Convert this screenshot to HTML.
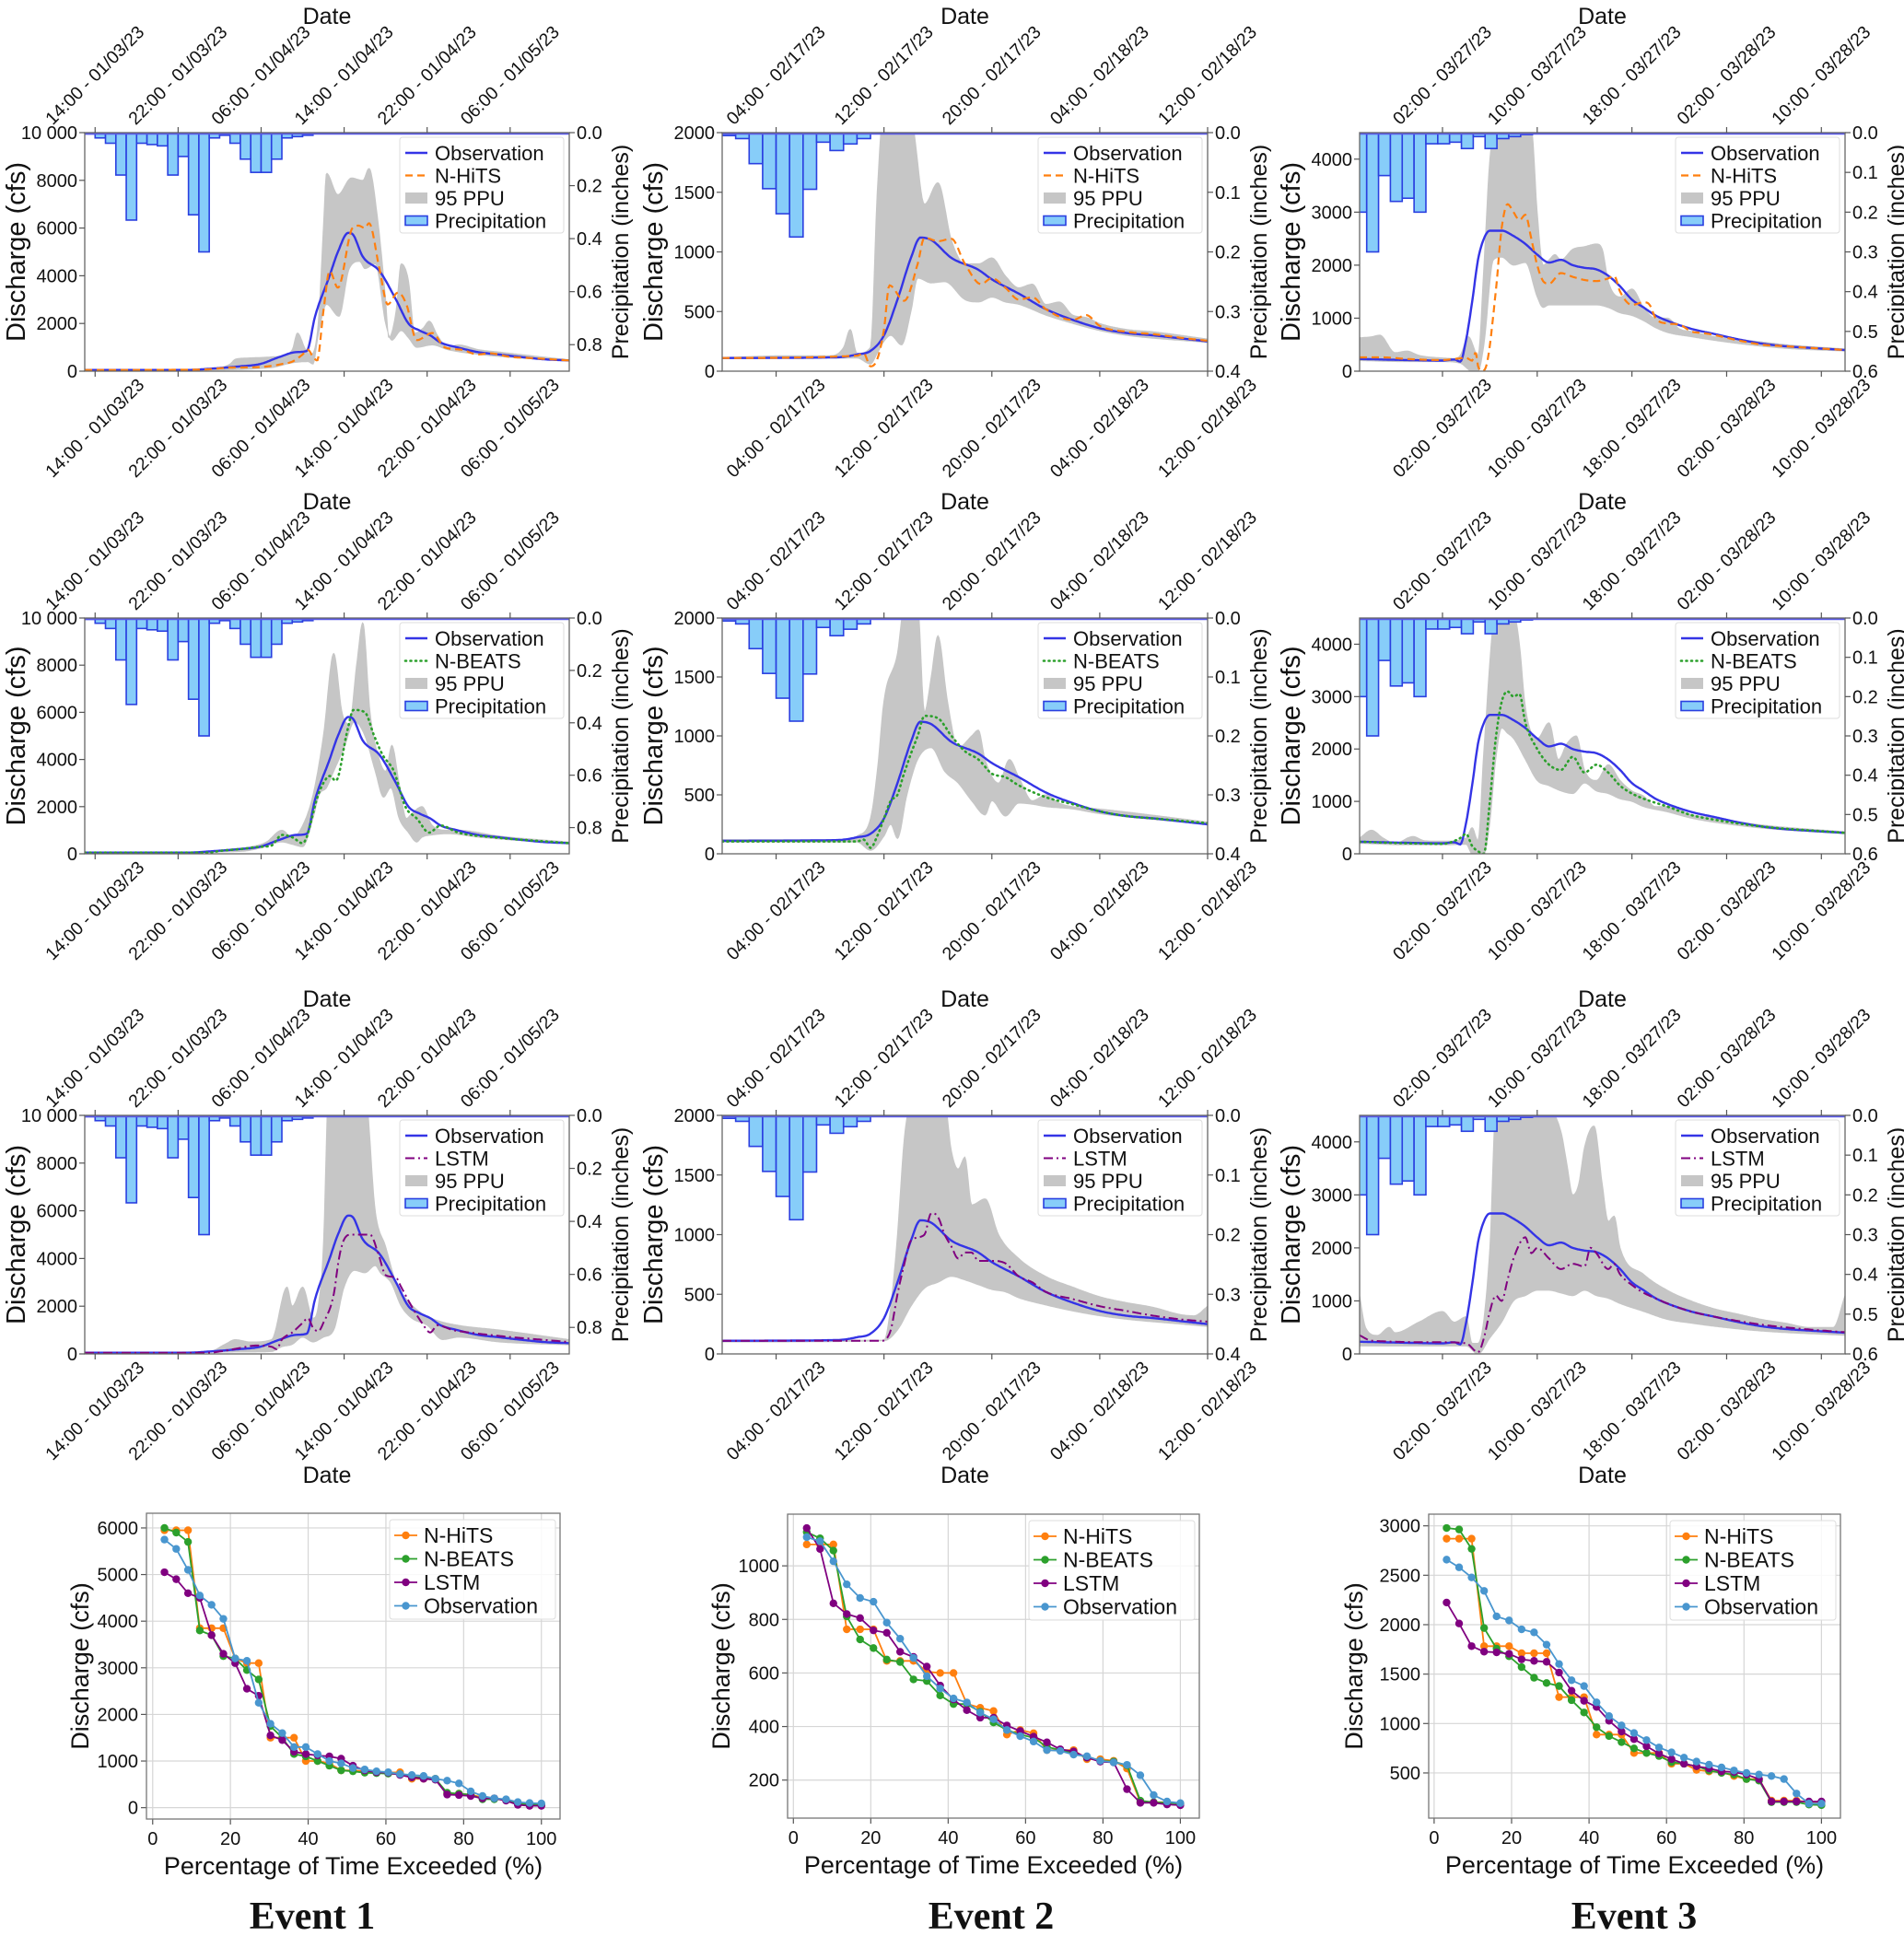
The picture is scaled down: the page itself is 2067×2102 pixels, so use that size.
<!DOCTYPE html>
<html><head><meta charset="utf-8"><title>Discharge forecasts</title>
<style>html,body{margin:0;padding:0;background:#fff}svg{display:block}text{font-family:"Liberation Sans","DejaVu Sans",sans-serif;fill:#111}</style>
</head><body>
<svg id="fig" xmlns="http://www.w3.org/2000/svg" width="2067" height="2102" viewBox="0 0 2067 2102">
<rect width="2067" height="2102" fill="#fff"/>
<text x="339" y="2094" text-anchor="middle" style="font-family:'Liberation Serif',serif;font-weight:bold;font-size:42px">Event 1</text>
<text x="1076" y="2094" text-anchor="middle" style="font-family:'Liberation Serif',serif;font-weight:bold;font-size:42px">Event 2</text>
<text x="1774" y="2094" text-anchor="middle" style="font-family:'Liberation Serif',serif;font-weight:bold;font-size:42px">Event 3</text>
</svg>
<script>
// ===== Event 1 data (hours from start, cfs) =====
const e1TickHours=[1,9,17,25,33,41];
const e1TickLabels=['14:00 - 01/03/23','22:00 - 01/03/23','06:00 - 01/04/23','14:00 - 01/04/23','22:00 - 01/04/23','06:00 - 01/05/23'];
const e1QTicks=[0,2000,4000,6000,8000,10000];
const e1QLabels=['0','2000','4000','6000','8000','10 000'];
const e1PTicks=[0,0.2,0.4,0.6,0.8];
const e1PLabels=['0.0','0.2','0.4','0.6','0.8'];
const e1Precip=[0.005,0.02,0.04,0.16,0.33,0.04,0.045,0.05,0.16,0.09,0.31,0.45,0.02,0.01,0.04,0.10,0.15,0.15,0.10,0.02,0.015,0.01,0.003];
const e1Obs=[[0,50],[10,50],[12,100],[14.9,200],[16.9,300],[18.8,600],[20.4,800],[21.4,850],[22.2,2300],[23.6,4000],[24.4,5000],[25.4,5800],[25.8,5750],[26.8,4800],[28.4,4200],[30,3000],[31.2,2000],[32.3,1700],[33.3,1500],[34.3,1200],[35.9,1000],[37.9,800],[39.9,700],[41.9,600],[44.2,500],[46.7,450]];
const e1Hits=[[0,50],[10,60],[12,80],[14,150],[16,160],[18,220],[19,300],[20,400],[21,700],[21.5,900],[22,600],[22.4,450],[23,2500],[23.6,4200],[24.4,3500],[25.8,6000],[26.4,6100],[27,6000],[27.4,6200],[28.4,4300],[29.2,2800],[30.2,3300],[31,2800],[32,1300],[33.5,1600],[34.7,1000],[36.3,900],[37.9,700],[39,750],[41,600],[43,550],[46.7,450]];
const e1HitsUp=[[0,60],[10,60],[13,150],[14,300],[14.5,500],[15.5,550],[18,600],[19,650],[20,900],[20.5,1600],[21.3,900],[21.8,700],[22.5,2000],[23,6000],[23.3,8300],[24.4,7400],[25.7,8100],[26.8,8000],[27.4,8500],[28.2,6500],[29,3000],[29.3,1400],[30,2500],[30.5,4500],[31.2,3800],[31.8,1600],[32.6,1800],[33.2,2100],[34,1500],[35,1000],[36,1100],[38,900],[40,800],[42,700],[46.7,480]];
const e1HitsLo=[[0,30],[10,40],[18,150],[20,350],[21.5,400],[22,300],[22.5,1500],[23.3,2800],[24.5,2300],[25.5,4300],[26.5,4600],[27,4300],[28,4500],[29,2000],[29.6,1300],[30.5,1700],[31.2,1400],[32,1000],[33.5,1100],[35,900],[38,700],[42,550],[46.7,420]];
const e1Beats=[[0,50],[12,50],[13,120],[15,200],[17,300],[18,350],[19,800],[20,700],[21,450],[22.5,2500],[23,3000],[23.6,3300],[24.2,3100],[25.3,5200],[25.9,6100],[27,6000],[27.9,5000],[28.7,4200],[29.8,3500],[30.9,2000],[32,1500],[33.2,900],[34.3,1200],[36,900],[39.4,700],[46.7,450]];
const e1BeatsUp=[[0,60],[10,60],[12,100],[14,200],[16,300],[17.5,500],[19,1000],[20,700],[21,1200],[22,2500],[23,5000],[24,8500],[24.8,6000],[25.5,5500],[26.2,8000],[26.8,9800],[27.5,6000],[28.4,4000],[29,3500],[29.6,4600],[30.3,3000],[31,1500],[31.5,1700],[32.5,2000],[33.5,1200],[35,1000],[36,1000],[40,750],[46.7,500]];
const e1BeatsLo=[[0,30],[15,100],[17,250],[19,500],[20,400],[21,300],[22,1500],[22.6,2500],[23.3,2800],[24,3500],[25,4500],[26,5600],[27,5000],[28,3500],[28.8,2400],[29.5,2800],[30.3,1500],[31.2,900],[32,500],[32.5,700],[33.5,800],[35,850],[38,700],[46.7,420]];
const e1Lstm=[[0,50],[12,50],[13,100],[15,250],[16.5,350],[18,300],[18.5,200],[19,600],[20,900],[21,1300],[21.5,1500],[22,1100],[22.5,950],[23,1300],[24,2500],[24.5,4000],[25,4800],[25.7,5000],[26.5,5000],[27.5,5000],[28.3,4200],[29,3300],[30,3200],[30.5,2800],[31.5,2000],[32.5,1300],[33.3,900],[34,1200],[35.5,1000],[37,900],[40,750],[46.7,500]];
const e1LstmUp=[[0,60],[12,100],[13.5,400],[14.5,600],[16,500],[18,600],[19.5,2800],[20,2000],[21,2800],[22,1500],[22.5,2000],[23,4500],[23.5,11000],[27,11000],[28,6000],[29,4500],[30,3000],[31,2300],[32.5,1700],[34,1400],[36,1200],[40,1000],[46.7,600]];
const e1LstmLo=[[0,30],[15,80],[18,100],[19,300],[20,400],[21,700],[22,500],[23,700],[24,1000],[25,2800],[26,3500],[27,3400],[28,3700],[28.5,3400],[29.5,3000],[30.5,2000],[31.5,1500],[33,1200],[34.5,600],[36,700],[40,500],[46.7,380]];

// ===== Event 2 data =====
const e2TickHours=[4,12,20,28,36];
const e2TickLabels=['04:00 - 02/17/23','12:00 - 02/17/23','20:00 - 02/17/23','04:00 - 02/18/23','12:00 - 02/18/23'];
const e2QTicks=[0,500,1000,1500,2000];
const e2QLabels=['0','500','1000','1500','2000'];
const e2PTicks=[0,0.1,0.2,0.3,0.4];
const e2PLabels=['0.0','0.1','0.2','0.3','0.4'];
const e2Precip=[0.005,0.01,0.052,0.094,0.136,0.175,0.095,0.016,0.03,0.019,0.01];
const e2Obs=[[0,110],[8,115],[9,120],[10,140],[11,170],[12,300],[13,600],[14,950],[14.7,1120],[15.5,1100],[17,950],[19,850],[20,770],[22,650],[24,520],[26,430],[28,360],[30,320],[32,300],[34,275],[36,250]];
const e2Hits=[[0,110],[10,130],[10.5,150],[11,40],[11.5,100],[12,350],[12.4,720],[13.5,590],[14.5,900],[15,1120],[16,1090],[17,1110],[18,900],[19.2,730],[20,780],[21,700],[22,600],[23,620],[24,520],[26,430],[27,470],[28,380],[30,330],[32,310],[34,280],[36,255]];
const e2HitsUp=[[0,115],[5,130],[8,130],[9,200],[9.5,350],[10,150],[11,200],[11.5,1500],[11.9,2100],[14,2100],[15,1400],[16,1580],[17,1100],[18,900],[19,900],[20,950],[21,800],[22,700],[23,730],[24,560],[25,580],[26,470],[27,450],[28,400],[30,350],[32,330],[36,270]];
const e2HitsLo=[[0,105],[10,110],[11,60],[11.5,150],[12,250],[12.5,300],[13.3,220],[14,500],[14.5,780],[15.5,740],[16.5,750],[18,600],[19,580],[20,620],[21,580],[22,560],[24,470],[26,400],[28,340],[30,300],[36,240]];
const e2Beats=[[0,105],[10,105],[10.5,120],[11,50],[11.5,150],[12,300],[12.5,450],[13,500],[13.4,650],[14,850],[14.5,1000],[15,1170],[16,1150],[17,1000],[18,870],[19,800],[20,680],[21,650],[22,580],[24,480],[26,420],[28,360],[30,320],[32,300],[36,260]];
const e2BeatsUp=[[0,120],[9,120],[10,150],[11,300],[11.5,700],[12,1300],[13,1700],[13.5,2100],[14.5,2100],[15,1200],[15.5,1500],[16,1850],[16.7,1300],[17.5,900],[18.5,1000],[19,1050],[19.5,800],[20.5,600],[21.3,800],[22,650],[23,450],[24,500],[25,430],[26,400],[28,380],[36,270]];
const e2BeatsLo=[[0,100],[10,100],[11,30],[12,150],[12.5,250],[13,130],[13.7,500],[14.5,800],[15.5,900],[16.5,700],[17.5,600],[18.5,450],[19.5,330],[20,450],[21,320],[22,430],[23,420],[24,400],[26,380],[28,340],[36,250]];
const e2Lstm=[[0,110],[11.8,110],[12.5,200],[13,500],[13.5,750],[14,950],[15,1000],[15.5,1180],[16,1150],[16.5,1000],[17,900],[17.5,800],[18,850],[18.5,850],[19,780],[20,780],[21,760],[22,650],[23,600],[24,520],[26,460],[28,400],[30,360],[32,320],[34,290],[36,270]];
const e2LstmUp=[[0,115],[12,115],[12.5,400],[13,1000],[13.5,1800],[14,2100],[16.5,2100],[17,1700],[17.5,1550],[18,1650],[18.5,1250],[19.5,1300],[20.5,1000],[22,800],[24,650],[26,560],[28,480],[30,430],[32,390],[34,330],[35,320],[36,400]];
const e2LstmLo=[[0,100],[12,110],[13,200],[14,400],[15,550],[16,600],[17,650],[18,620],[19,580],[20,540],[21,520],[22,470],[24,410],[26,360],[28,320],[30,290],[34,250],[36,230]];

// ===== Event 3 data =====
const e3TickHours=[7,15,23,31,39];
const e3TickLabels=['02:00 - 03/27/23','10:00 - 03/27/23','18:00 - 03/27/23','02:00 - 03/28/23','10:00 - 03/28/23'];
const e3QTicks=[0,1000,2000,3000,4000];
const e3QLabels=['0','1000','2000','3000','4000'];
const e3PTicks=[0,0.1,0.2,0.3,0.4,0.5,0.6];
const e3PLabels=['0.0','0.1','0.2','0.3','0.4','0.5','0.6'];
const e3Precip=[0.2,0.3,0.108,0.173,0.165,0.2,0.028,0.028,0.024,0.04,0.01,0.04,0.015,0.01,0.005,0.002];
const e3Obs=[[0,230],[4,210],[7,200],[8,220],[8.5,180],[9,600],[9.5,1300],[10,2100],[10.5,2500],[11,2650],[12,2650],[13,2550],[14,2400],[15,2200],[16,2050],[17,2100],[18,2000],[19,1950],[20,1920],[21,1800],[22,1600],[23,1350],[24,1200],[25,1050],[26,950],[28,800],[30,700],[32,600],[34,520],[36,470],[38,440],[41,400]];
const e3Hits=[[0,260],[2,260],[4,230],[7,210],[8,230],[9,250],[9.5,200],[9.8,350],[10,100],[10.3,0],[10.7,100],[11.5,1500],[12,2700],[12.5,3150],[13,3000],[13.5,2850],[14,2950],[14.5,2500],[15,2000],[15.5,1700],[16,1650],[17,1850],[18,1780],[19,1720],[20,1700],[21,1750],[21.5,1800],[22,1500],[23,1250],[24,1300],[24.5,1250],[25,1000],[26,900],[27,880],[28,750],[29,720],[30,680],[32,580],[34,500],[36,470],[38,440],[41,400]];
const e3HitsUp=[[0,630],[1,650],[1.7,680],[3,350],[4,380],[5,300],[7,250],[8,240],[8.5,300],[9.2,650],[10,300],[10.5,2000],[11,4000],[11.5,4600],[14.5,4600],[15,3000],[15.5,2000],[16,2100],[16.5,2200],[17,2100],[18,2300],[19,2350],[20,2400],[20.5,2300],[21,1700],[22,1400],[23,1550],[24,1200],[25,1000],[26,1000],[27,800],[28,750],[29,700],[30,650],[32,600],[34,550],[36,500],[41,420]];
const e3HitsLo=[[0,200],[4,180],[7,180],[8.5,150],[9.5,0],[10,0],[10.5,500],[11.3,2100],[12,2150],[13,2000],[14,2050],[15,1400],[15.5,1200],[16,1250],[17,1250],[18,1250],[20,1250],[21,1200],[22,1100],[23,1050],[24,950],[25,820],[26,730],[28,650],[30,580],[32,520],[34,470],[36,430],[41,380]];
const e3Beats=[[0,230],[4,200],[7,190],[8.5,300],[9,380],[9.5,150],[10,50],[10.5,0],[11,1000],[11.5,2200],[12,2900],[12.5,3100],[13,3000],[13.5,3050],[14,2500],[15,2000],[16,1700],[17,1600],[18,1850],[19,1550],[20,1700],[21,1550],[22,1300],[23,1150],[24,1050],[26,900],[28,740],[30,650],[34,520],[41,400]];
const e3BeatsUp=[[0,300],[1,450],[2,300],[3,200],[4.5,330],[5.5,250],[7,240],[9,300],[9.5,500],[10,250],[10.5,2000],[11.5,4600],[13,4600],[13.5,4000],[14,2800],[15,2200],[16,2500],[16.8,1800],[17.5,2100],[18.3,2250],[19,1600],[20,1400],[21,1700],[22,1400],[23,1200],[24,1100],[25,900],[26,900],[28,750],[30,680],[34,550],[41,420]];
const e3BeatsLo=[[0,200],[4,170],[7,170],[9,180],[9.5,0],[10.5,0],[11,600],[11.5,1800],[12,2400],[12.5,2300],[13,2200],[14,1800],[15,1400],[16,1300],[17,1200],[18,1150],[19,1350],[20,1200],[21,1150],[22,1050],[23,1000],[24,900],[26,800],[28,680],[30,600],[34,490],[41,380]];
const e3Lstm=[[0,350],[1,250],[7,220],[9,200],[10,30],[10.5,300],[11,800],[11.5,1100],[12,1000],[12.5,1400],[13,1800],[14,2200],[14.5,1900],[15,2000],[16,1800],[17,1600],[18,1700],[19,1650],[19.5,2000],[20,1900],[21,1600],[21.5,1700],[22,1500],[23,1300],[24,1150],[25,1050],[26,950],[28,800],[30,700],[32,620],[34,550],[36,500],[38,460],[41,410]];
const e3LstmUp=[[0,1100],[0.5,500],[1.5,350],[2.5,500],[3,400],[5,600],[7,800],[8,600],[9,700],[9.5,200],[10,200],[11,2000],[11.5,4600],[16,4600],[17,4200],[17.5,3600],[18,3000],[18.5,3200],[19,3900],[19.8,4300],[20.5,3200],[21,2500],[21.5,2600],[22,2000],[24,1500],[26,1200],[28,1000],[30,850],[32,750],[34,650],[36,580],[38,500],[40,500],[41,1100]];
const e3LstmLo=[[0,150],[7,150],[9,150],[10,0],[11,300],[12,600],[13,1000],[14,1100],[15,1200],[16,1200],[17,1150],[18,1100],[19,1200],[20,1100],[21,1050],[22,950],[24,800],[26,650],[28,580],[30,520],[34,430],[41,350]];

// ===== Flow duration curves =====
const fdcXTicks=[0,20,40,60,80,100];
const fdc1YTicks=[0,1000,2000,3000,4000,5000,6000];
const fdc2YTicks=[200,400,600,800,1000];
const fdc3YTicks=[500,1000,1500,2000,2500,3000];
const fdc1Hits=[5950,5950,5950,3850,3850,3850,3200,3100,3100,1500,1500,1500,1000,1000,950,800,800,780,750,750,760,620,620,620,300,300,280,220,200,170,100,70,50];
const fdc1Beats=[6000,5900,5700,3800,3700,3250,3200,2950,2750,1750,1500,1150,1100,1000,900,800,780,750,740,730,720,650,650,620,320,300,280,180,180,170,80,70,60];
const fdc1Lstm=[5050,4900,4600,4500,3700,3300,3100,2550,2400,1550,1450,1200,1150,1120,1100,1050,900,800,760,750,700,650,620,600,280,270,250,200,200,150,60,40,40];
const fdc1Obs=[5750,5550,5100,4550,4350,4050,3200,3150,2250,1800,1600,1300,1300,1150,1000,950,850,820,780,760,720,700,680,620,580,520,350,250,200,180,120,100,90];
const fdc2Hits=[1080,1080,1080,763,763,763,645,645,645,605,600,600,485,470,458,370,387,375,312,312,312,278,278,272,243,117,117,117,112];
const fdc2Beats=[1126,1103,1057,811,725,693,650,641,576,570,516,484,484,455,415,387,370,358,324,312,301,284,272,269,255,123,117,115,112];
const fdc2Lstm=[1141,1063,860,820,805,759,750,679,660,624,553,501,461,433,433,404,383,362,341,315,307,284,269,266,166,115,115,109,106];
const fdc2Obs=[1107,1092,1017,931,880,866,788,728,656,588,542,505,490,452,427,387,364,344,312,309,295,289,272,266,257,218,144,120,114];
const fdc3Hits=[2870,2870,2870,1783,1783,1783,1711,1711,1711,1267,1267,1267,888,888,888,702,702,702,593,593,531,516,509,469,438,438,220,220,220,205,205];
const fdc3Beats=[2978,2963,2767,1966,1758,1680,1571,1463,1410,1379,1236,1112,963,873,811,748,702,671,609,593,568,525,500,484,438,422,205,205,205,180,174];
const fdc3Lstm=[2224,2012,1783,1727,1720,1705,1649,1634,1624,1516,1332,1230,1168,1028,919,842,770,696,640,593,568,546,516,509,484,438,211,211,211,211,211];
const fdc3Obs=[2658,2580,2478,2342,2084,2043,1953,1922,1798,1602,1438,1379,1214,1075,981,904,832,758,708,655,615,584,556,525,500,484,469,438,292,190,190];

const svg=document.getElementById('fig');
const NS='http://www.w3.org/2000/svg';
function mk(tag,parent,name){
  const e=document.createElementNS(NS,tag);
  
  
  parent.appendChild(e);
  return e;
}
function set(e,o){for(const k in o)e.setAttribute(k,o[k]);return e;}
function txt(parent,name,x,y,s,size,anchor,extra){
  const t=mk('text',parent,name);
  set(t,{x:x,y:y,'font-size':size,'text-anchor':anchor||'start'});
  if(extra)set(t,extra);
  t.textContent=s;return t;
}
function sampler(pts){
  const n=pts.length,xs=pts.map(p=>p[0]),ys=pts.map(p=>p[1]);
  const d=[],m=new Array(n);
  for(let i=0;i<n-1;i++)d.push((ys[i+1]-ys[i])/(xs[i+1]-xs[i]));
  m[0]=d[0];m[n-1]=d[n-2];
  for(let i=1;i<n-1;i++){m[i]=(d[i-1]*d[i]<=0)?0:(d[i-1]+d[i])/2;}
  for(let i=0;i<n-1;i++){
    if(d[i]===0){m[i]=0;m[i+1]=0;continue;}
    const a=m[i]/d[i],b=m[i+1]/d[i],s=a*a+b*b;
    if(s>9){const t=3/Math.sqrt(s);m[i]=t*a*d[i];m[i+1]=t*b*d[i];}
  }
  return function(x){
    let i=0;while(i<n-2&&x>xs[i+1])i++;
    const h=xs[i+1]-xs[i],t=(x-xs[i])/h,t2=t*t,t3=t2*t;
    return (2*t3-3*t2+1)*ys[i]+(t3-2*t2+t)*h*m[i]+(-2*t3+3*t2)*ys[i+1]+(t3-t2)*h*m[i+1];
  };
}
function samplePts(pts,sx,sy){
  const f=sampler(pts),a=pts[0][0],b=pts[pts.length-1][0],out=[];
  const N=Math.max(60,Math.round((b-a)*12));
  for(let k=0;k<=N;k++){const t=a+(b-a)*k/N;out.push([sx(t),sy(f(t))]);}
  return out;
}
function vtitle(parent,name,cx,cy,s,size){
  return txt(parent,name,cx,cy,s,size,'middle',{'dominant-baseline':'central',transform:'rotate(-90 '+cx+' '+cy+')'});
}
let clipId=0;
function drawPanel(c){
  const g=mk('g',svg,c.name);
  const W=c.x1-c.x0,H=c.y1-c.y0;
  const sx=t=>c.x0+t/c.tmax*W, sy=q=>c.y1-q/c.qmax*H, sp=p=>c.y0+p/c.pmax*H;
  const cid='clip'+(clipId++);
  const defs=mk('defs',g,'clip-defs');
  const cp=mk('clipPath',defs,'plot-clip');cp.setAttribute('id',cid);
  set(mk('rect',cp,'plot-clip-rect'),{x:c.x0,y:c.y0,width:W,height:H});
  const area=mk('g',g,'plot-area');area.setAttribute('clip-path','url(#'+cid+')');
  const up=samplePts(c.upper,sx,sy),lo=samplePts(c.lower,sx,sy).reverse();
  const band=mk('polygon',area,'ppu-band');
  set(band,{points:up.concat(lo).map(p=>p[0].toFixed(1)+','+p[1].toFixed(1)).join(' '),fill:'#c6c6c6',stroke:'#c6c6c6','stroke-width':1});
  c.precip.forEach((v,i)=>{
    const t0=c.pstart+i;
    const b=mk('rect',area,'precip-bar');
    set(b,{x:sx(t0),y:c.y0,width:sx(t0+1)-sx(t0),height:sp(v)-c.y0,fill:'#87cdf9',stroke:'#2a3fe0','stroke-width':1.6});
  });
  set(mk('line',area,'precip-baseline'),{x1:c.x0,x2:c.x1,y1:c.y0+1,y2:c.y0+1,stroke:'#5a5ae8','stroke-width':2.5});
  const ob=mk('polyline',area,'observation-line');
  set(ob,{points:samplePts(c.obs,sx,sy).map(p=>p[0].toFixed(1)+','+p[1].toFixed(1)).join(' '),fill:'none',stroke:'#3434e6','stroke-width':2.4});
  const md=mk('polyline',area,c.modelName.toLowerCase()+'-line');
  set(md,{points:samplePts(c.model,sx,sy).map(p=>p[0].toFixed(1)+','+p[1].toFixed(1)).join(' '),fill:'none',stroke:c.color,'stroke-width':c.lw,'stroke-dasharray':c.dash,'stroke-linecap':c.cap||'butt'});
  set(mk('rect',g,'axes-frame'),{x:c.x0,y:c.y0,width:W,height:H,fill:'none',stroke:'#666','stroke-width':1.3});
  c.tickH.forEach((h,i)=>{
    const x=sx(h);
    set(mk('line',g,'x-tick-bottom'),{x1:x,x2:x,y1:c.y1,y2:c.y1+6,stroke:'#555','stroke-width':1.2});
    set(mk('line',g,'x-tick-top'),{x1:x,x2:x,y1:c.y0,y2:c.y0-6,stroke:'#555','stroke-width':1.2});
    txt(g,'x-tick-label-bottom',x,c.y1+62,c.tickL[i],19.5,'middle',{'dominant-baseline':'central',transform:'rotate(-45 '+x+' '+(c.y1+62)+')'});
    txt(g,'x-tick-label-top',x,c.y0-62,c.tickL[i],19.5,'middle',{'dominant-baseline':'central',transform:'rotate(-45 '+x+' '+(c.y0-62)+')'});
  });
  c.qt.forEach((q,i)=>{
    const y=sy(q);
    set(mk('line',g,'y-tick-left'),{x1:c.x0-6,x2:c.x0,y1:y,y2:y,stroke:'#555','stroke-width':1.2});
    txt(g,'y-tick-label-left',c.x0-8,y+7,c.ql[i],20,'end');
  });
  c.pt.forEach((p,i)=>{
    const y=sp(p);
    set(mk('line',g,'y-tick-right'),{x1:c.x1,x2:c.x1+6,y1:y,y2:y,stroke:'#555','stroke-width':1.2});
    txt(g,'y-tick-label-right',c.x1+8,y+7,c.pl[i],20,'start');
  });
  const cy=(c.y0+c.y1)/2;
  vtitle(g,'y-axis-title-left',c.x0-74,cy,'Discharge (cfs)',29);
  vtitle(g,'y-axis-title-right',c.x1+56,cy,'Precipitation (inches)',25);
  txt(g,'x-axis-title-top',(c.x0+c.x1)/2,c.y0-118,'Date',25,'middle');
  if(c.bottomDate)txt(g,'x-axis-title-bottom',(c.x0+c.x1)/2,c.y1+140,'Date',25,'middle');
  const L=mk('g',g,'legend');
  const lw=178,lx=c.x1-lw-6,ly=c.y0+5;
  set(mk('rect',L,'legend-box'),{x:lx,y:ly,width:lw,height:104,rx:3,fill:'#fff','fill-opacity':0.85,stroke:'#ddd'});
  const rows=[['Observation','obs'],[c.modelName,'model'],['95 PPU','ppu'],['Precipitation','pr']];
  rows.forEach((r,i)=>{
    const yy=ly+17+i*24.5;
    if(r[1]==='obs')set(mk('line',L,'legend-obs-handle'),{x1:lx+6,x2:lx+30,y1:yy,y2:yy,stroke:'#3434e6','stroke-width':2.4});
    if(r[1]==='model')set(mk('line',L,'legend-model-handle'),{x1:lx+6,x2:lx+30,y1:yy,y2:yy,stroke:c.color,'stroke-width':c.lw,'stroke-dasharray':c.dash,'stroke-linecap':c.cap||'butt'});
    if(r[1]==='ppu')set(mk('rect',L,'legend-ppu-handle'),{x:lx+6,y:yy-6,width:24,height:12,fill:'#c6c6c6'});
    if(r[1]==='pr')set(mk('rect',L,'legend-precip-handle'),{x:lx+6,y:yy-5,width:24,height:10,fill:'#87cdf9',stroke:'#2a3fe0','stroke-width':1.6});
    txt(L,'legend-label',lx+38,yy+8,r[0],22,'start');
  });
}
const cols=[{x0:92,x1:618},{x0:784,x1:1311},{x0:1476,x1:2003}];
const rowsY=[{y0:144,y1:403},{y0:671,y1:927},{y0:1211,y1:1470}];
const ev=[
 {tmax:46.7,qmax:10000,pmax:0.9,pstart:0,precip:e1Precip,obs:e1Obs,tickH:e1TickHours,tickL:e1TickLabels,qt:e1QTicks,ql:e1QLabels,pt:e1PTicks,pl:e1PLabels,m:[[e1Hits,e1HitsUp,e1HitsLo],[e1Beats,e1BeatsUp,e1BeatsLo],[e1Lstm,e1LstmUp,e1LstmLo]]},
 {tmax:36,qmax:2000,pmax:0.4,pstart:0,precip:e2Precip,obs:e2Obs,tickH:e2TickHours,tickL:e2TickLabels,qt:e2QTicks,ql:e2QLabels,pt:e2PTicks,pl:e2PLabels,m:[[e2Hits,e2HitsUp,e2HitsLo],[e2Beats,e2BeatsUp,e2BeatsLo],[e2Lstm,e2LstmUp,e2LstmLo]]},
 {tmax:41,qmax:4500,pmax:0.6,pstart:-0.4,precip:e3Precip,obs:e3Obs,tickH:e3TickHours,tickL:e3TickLabels,qt:e3QTicks,ql:e3QLabels,pt:e3PTicks,pl:e3PLabels,m:[[e3Hits,e3HitsUp,e3HitsLo],[e3Beats,e3BeatsUp,e3BeatsLo],[e3Lstm,e3LstmUp,e3LstmLo]]}
];
const styles=[
 {modelName:'N-HiTS',color:'#ff7f0e',lw:2.2,dash:'8,5'},
 {modelName:'N-BEATS',color:'#2ca02c',lw:2.6,dash:'1,4.5',cap:'round'},
 {modelName:'LSTM',color:'#800080',lw:2,dash:'10,4,2,4'}
];
for(let r=0;r<3;r++)for(let e=0;e<3;e++){
  const E=ev[e],S=styles[r];
  drawPanel(Object.assign({name:'panel-row'+(r+1)+'-event'+(e+1),bottomDate:r===2},cols[e],rowsY[r],E,S,{model:E.m[r][0],upper:E.m[r][1],lower:E.m[r][2]}));
}
function drawFDC(c){
  const g=mk('g',svg,c.name);
  const W=c.x1-c.x0,H=c.y1-c.y0;
  const sx=p=>c.x0+(p-c.xmin)/(c.xmax-c.xmin)*W, sy=q=>c.y1-(q-c.ymin)/(c.ymax-c.ymin)*H;
  fdcXTicks.forEach(t=>{
    const x=sx(t);
    set(mk('line',g,'x-grid-line'),{x1:x,x2:x,y1:c.y0,y2:c.y1,stroke:'#d6d6d6','stroke-width':1.2});
    set(mk('line',g,'x-tick'),{x1:x,x2:x,y1:c.y1,y2:c.y1+6,stroke:'#555','stroke-width':1.2});
    txt(g,'x-tick-label',x,c.y1+28,String(t),20,'middle');
  });
  c.yt.forEach(t=>{
    const y=sy(t);
    set(mk('line',g,'y-grid-line'),{x1:c.x0,x2:c.x1,y1:y,y2:y,stroke:'#d6d6d6','stroke-width':1.2});
    set(mk('line',g,'y-tick'),{x1:c.x0-6,x2:c.x0,y1:y,y2:y,stroke:'#555','stroke-width':1.2});
    txt(g,'y-tick-label',c.x0-9,y+7,String(t),20,'end');
  });
  set(mk('rect',g,'axes-frame'),{x:c.x0,y:c.y0,width:W,height:H,fill:'none',stroke:'#777','stroke-width':1.3});
  const series=[['N-HiTS',c.hits,'#ff7f0e'],['N-BEATS',c.beats,'#2ca02c'],['LSTM',c.lstm,'#800080'],['Observation',c.obs,'#4996cf']];
  series.forEach(s=>{
    const n=s[1].length;
    const pts=s[1].map((v,i)=>[sx(100*(i+1)/n),sy(v)]);
    const sg=mk('g',g,'series-'+s[0].toLowerCase());
    set(mk('polyline',sg,'fdc-line'),{points:pts.map(p=>p[0].toFixed(1)+','+p[1].toFixed(1)).join(' '),fill:'none',stroke:s[2],'stroke-width':1.8});
    pts.forEach(p=>set(mk('circle',sg,'fdc-point'),{cx:p[0],cy:p[1],r:4.2,fill:s[2]}));
  });
  const L=mk('g',g,'legend');
  const lw=180,lx=c.x1-lw-5,ly=c.y0+7;
  set(mk('rect',L,'legend-box'),{x:lx,y:ly,width:lw,height:108,rx:3,fill:'#fff','fill-opacity':0.85,stroke:'#ddd'});
  series.forEach((s,i)=>{
    const yy=ly+17+i*25.5;
    set(mk('line',L,'legend-handle'),{x1:lx+5,x2:lx+30,y1:yy,y2:yy,stroke:s[2],'stroke-width':1.8});
    set(mk('circle',L,'legend-marker'),{cx:lx+17.5,cy:yy,r:4.2,fill:s[2]});
    txt(L,'legend-label',lx+37,yy+8,s[0],23,'start');
  });
  txt(g,'x-axis-title',(c.x0+c.x1)/2,c.y1+60,'Percentage of Time Exceeded (%)',27,'middle');
  const cy=(c.y0+c.y1)/2;
  vtitle(g,'y-axis-title',c.ylx,cy,'Discharge (cfs)',27);
}
drawFDC({name:'fdc-event1',x0:159,x1:608,y0:1643,y1:1975,xmin:-1.6,xmax:104.8,ymin:-244,ymax:6315,yt:fdc1YTicks,hits:fdc1Hits,beats:fdc1Beats,lstm:fdc1Lstm,obs:fdc1Obs,ylx:87});
drawFDC({name:'fdc-event2',x0:855,x1:1302,y0:1644,y1:1974,xmin:-1.5,xmax:104.9,ymin:58,ymax:1193,yt:fdc2YTicks,hits:fdc2Hits,beats:fdc2Beats,lstm:fdc2Lstm,obs:fdc2Obs,ylx:783});
drawFDC({name:'fdc-event3',x0:1551,x1:1998,y0:1644,y1:1974,xmin:-1.4,xmax:104.9,ymin:43,ymax:3118,yt:fdc3YTicks,hits:fdc3Hits,beats:fdc3Beats,lstm:fdc3Lstm,obs:fdc3Obs,ylx:1470});
</script>
</body></html>
